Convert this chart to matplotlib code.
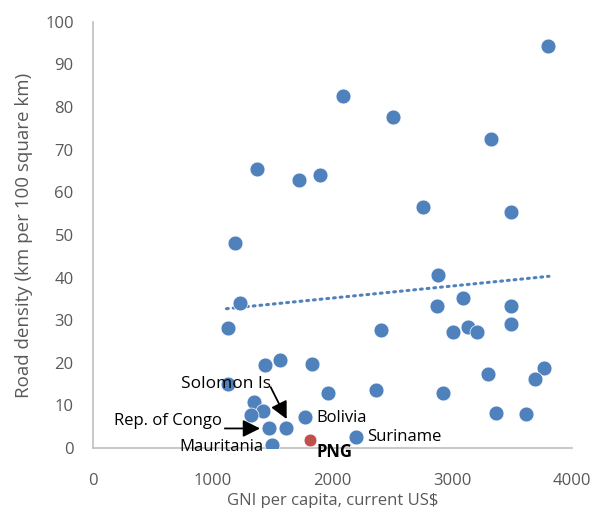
import matplotlib
matplotlib.use('Agg')
from matplotlib import pyplot as plt

plt.rcParams['font.family'] = ['Open Sans', 'DejaVu Sans']

# GNI per capita (US$) and road density (km per 100 sq km), comparator countries
gni = [3802, 2086, 2503, 3325, 1367, 1717, 1892, 2755, 3489, 1183,
       2883, 1225, 3092, 2875, 3489, 1128, 2408, 3003, 3133, 3206,
       3489, 1436, 1561, 1825, 3303, 3764, 3692, 1128, 1964, 2367,
       2925, 1344, 1422, 1317, 3364, 3614, 1772, 1469, 1614, 2197, 1494]
density = [94.3, 82.5, 77.7, 72.4, 65.5, 62.9, 64.0, 56.5, 55.3, 48.0,
           40.6, 34.1, 35.1, 33.3, 33.3, 28.1, 27.7, 27.3, 28.3, 27.3,
           29.1, 19.4, 20.6, 19.8, 17.4, 18.7, 16.1, 15.1, 13.0, 13.7,
           12.9, 10.9, 8.6, 7.7, 8.3, 7.9, 7.2, 4.8, 4.8, 2.6, 0.7]

png_gni = 1811
png_density = 1.9

# linear trendline as shown in the source chart
trend_x = [1114, 3808]
trend_y = [32.7, 40.3]

blue = '#4F81BD'
red = '#C0504D'

fig = plt.figure(figsize=(5.97, 5.08), dpi=100)
ax = fig.add_axes([0.156, 0.118, 0.802, 0.839])

ax.scatter(gni, density, s=115, color=blue, edgecolors='white', linewidths=0.5, zorder=3)
ax.scatter([png_gni], [png_density], s=85, color=red, edgecolors='white', linewidths=0.5, zorder=3)
ax.plot(trend_x, trend_y, color=blue, lw=2.2, linestyle=(0, (0.6, 1.6)),
        dash_capstyle='round', zorder=2)

ax.set_xlim(0, 4000)
ax.set_ylim(0, 100)
ax.set_xticks(range(0, 4001, 1000))
ax.set_yticks(range(0, 101, 10))
ax.tick_params(length=0, labelsize=12, labelcolor='#595959')
ax.tick_params(axis='x', pad=18)
ax.tick_params(axis='y', pad=14)
for side in ['top', 'right']:
    ax.spines[side].set_visible(False)
for side in ['left', 'bottom']:
    ax.spines[side].set_color('#BFBFBF')
    ax.spines[side].set_linewidth(1.2)

ax.set_xlabel('GNI per capita, current US$', fontsize=12, color='#595959', labelpad=3)
ax.set_ylabel('Road density (km per 100 square km)', fontsize=13.5, color='#595959', labelpad=9)

arrow = dict(arrowstyle='-|>', color='black', lw=1.3, mutation_scale=26,
             shrinkA=0, shrinkB=0)
ax.annotate('', xy=(1617, 6.8), xytext=(1483, 14.3), arrowprops=arrow, zorder=5)
ax.annotate('', xy=(1395, 4.6), xytext=(1100, 4.6), arrowprops=arrow, zorder=5)
ax.text(1490, 15.0, 'Solomon Is', fontsize=12.5, ha='right', va='center', zorder=5)
ax.text(1075, 6.3, 'Rep. of Congo', fontsize=12, ha='right', va='center', zorder=5)
ax.text(1420, 0.2, 'Mauritania', fontsize=12, ha='right', va='center', zorder=5)
ax.text(1867, 7.1, 'Bolivia', fontsize=12, ha='left', va='center', zorder=5)
ax.text(2285, 2.6, 'Suriname', fontsize=12, ha='left', va='center', zorder=5)
ax.text(1867, -1.0, 'PNG', fontsize=12, fontweight='bold', ha='left', va='center', zorder=5)

fig.savefig('out.png', dpi=100)
